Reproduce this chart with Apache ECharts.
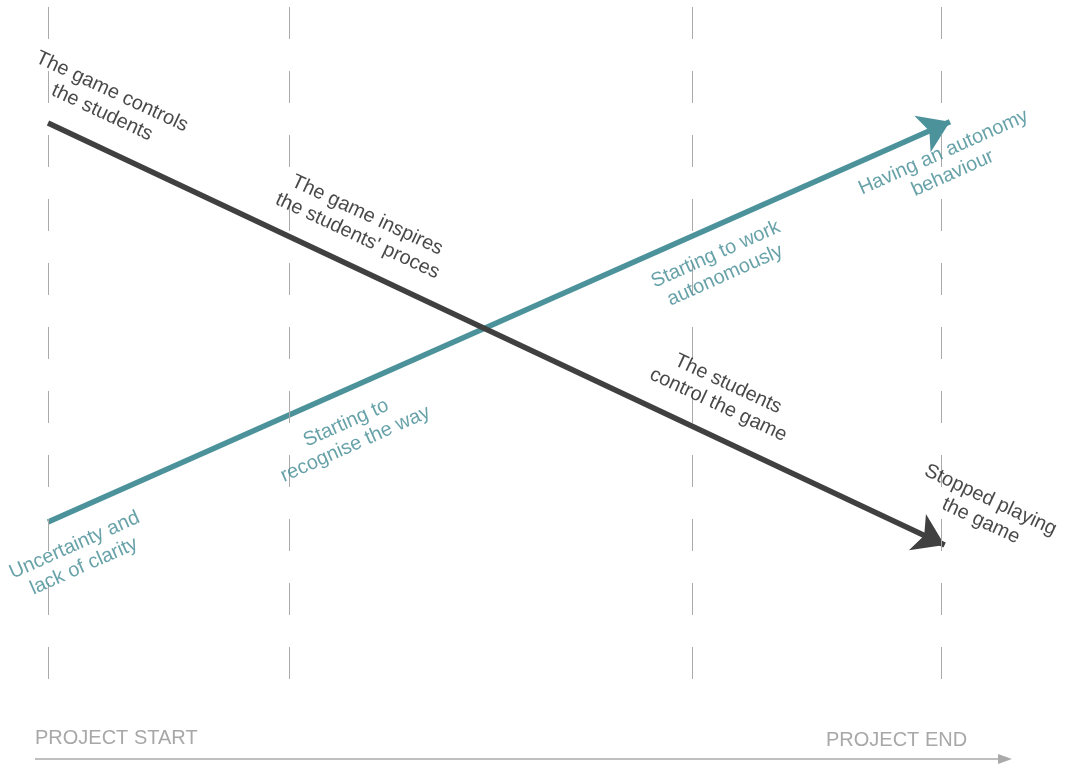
<!DOCTYPE html>
<html>
<head>
<meta charset="utf-8">
<script src="https://cdn.jsdelivr.net/npm/echarts@6/dist/echarts.min.js"></script>
<style>
  html, body { margin: 0; padding: 0; background: #fff; }
  #chart { width: 1068px; height: 764px; }
</style>
</head>
<body>
<div id="chart"></div>
<script>
// project phases (x position in % of project) where the dashed guides sit
const phaseMarks = [0, 27, 72.1, 100];

// the two trends: [progress %, level]
const gameControl = [[0, 82.8], [100.4, 20.3]];
const studentAutonomy = [[0, 23.7], [101, 83.0]];

// annotations along each trend: [x, y, text]
const controlNotes = [
    [6.6, 85.9, 'The game controls\nthe students'],
    [35.2, 67.6, 'The game inspires\nthe students\' proces'],
    [75.6, 42.6, 'The students\ncontrol the game'],
    [105.0, 25.4, 'Stopped playing\nthe game']
];
const autonomyNotes = [
    [3.5, 18.7, 'Uncertainty and\nlack of clarity'],
    [33.9, 36.8, 'Starting to\nrecognise the way'],
    [75.3, 61.8, 'Starting to work\nautonomously'],
    [100.8, 76.9, 'Having an autonomy\nbehaviour']
];

const timeLabels = ['PROJECT START', 'PROJECT END'];

const dark = '#404040';
const teal = '#4b929b';
const font = '"Liberation Sans", Arial, sans-serif';

const chart = echarts.init(document.getElementById('chart'));

const noteSeries = (notes, color, rotate) => ({
    type: 'scatter',
    symbolSize: 0,
    silent: true,
    clip: false,
    z: 5,
    data: notes.map(n => ({ value: [n[0], n[1]], label: { formatter: n[2] } })),
    label: {
        show: true,
        position: 'inside',
        rotate: rotate,
        align: 'center',
        verticalAlign: 'middle',
        color: color,
        fontSize: 20,
        lineHeight: 23,
        fontFamily: font
    }
});

const option = {
    animation: false,
    backgroundColor: '#fff',
    grid: { left: 48, right: 127, top: 7, bottom: 82 },
    xAxis: {
        type: 'value', min: 0, max: 100,
        axisLine: { show: false }, axisTick: { show: false },
        axisLabel: { show: false }, splitLine: { show: false }
    },
    yAxis: {
        type: 'value', min: 0, max: 100,
        axisLine: { show: false }, axisTick: { show: false },
        axisLabel: { show: false }, splitLine: { show: false }
    },
    series: [
        {
            type: 'lines',
            coordinateSystem: 'cartesian2d',
            polyline: false,
            clip: false,
            z: 3,
            symbol: ['none', 'arrow'],
            symbolSize: [22, 30],
            lineStyle: { color: teal, width: 5.5, opacity: 1 },
            data: [{ coords: studentAutonomy }],
            markLine: {
                silent: true,
                symbol: ['none', 'none'],
                label: { show: false },
                lineStyle: { color: '#aaa', width: 1, type: [32, 32], dashOffset: 61 },
                data: phaseMarks.map(x => ({ xAxis: x }))
            }
        },
        {
            type: 'lines',
            coordinateSystem: 'cartesian2d',
            polyline: false,
            clip: false,
            z: 4,
            symbol: ['none', 'arrow'],
            symbolSize: [22, 30],
            lineStyle: { color: dark, width: 5.5, opacity: 1 },
            data: [{ coords: gameControl }]
        },
        noteSeries(controlNotes, '#1a1a1a', -25),
        noteSeries(autonomyNotes, '#428b94', 24)
    ],
    graphic: [
        {
            type: 'line',
            shape: { x1: 35, y1: 759, x2: 1000, y2: 759 },
            style: { stroke: '#aaa', lineWidth: 1.5 }
        },
        {
            type: 'polygon',
            shape: { points: [[998, 754], [1012, 759], [998, 764]] },
            style: { fill: '#aaa' }
        },
        {
            type: 'text',
            left: 35, top: 728,
            style: { text: timeLabels[0], fill: '#a8a8a8', fontSize: 20, fontFamily: font }
        },
        {
            type: 'text',
            left: 826, top: 730,
            style: { text: timeLabels[1], fill: '#a8a8a8', fontSize: 20, fontFamily: font }
        }
    ]
};

chart.setOption(option);
window.addEventListener('resize', chart.resize);
</script>
</body>
</html>
